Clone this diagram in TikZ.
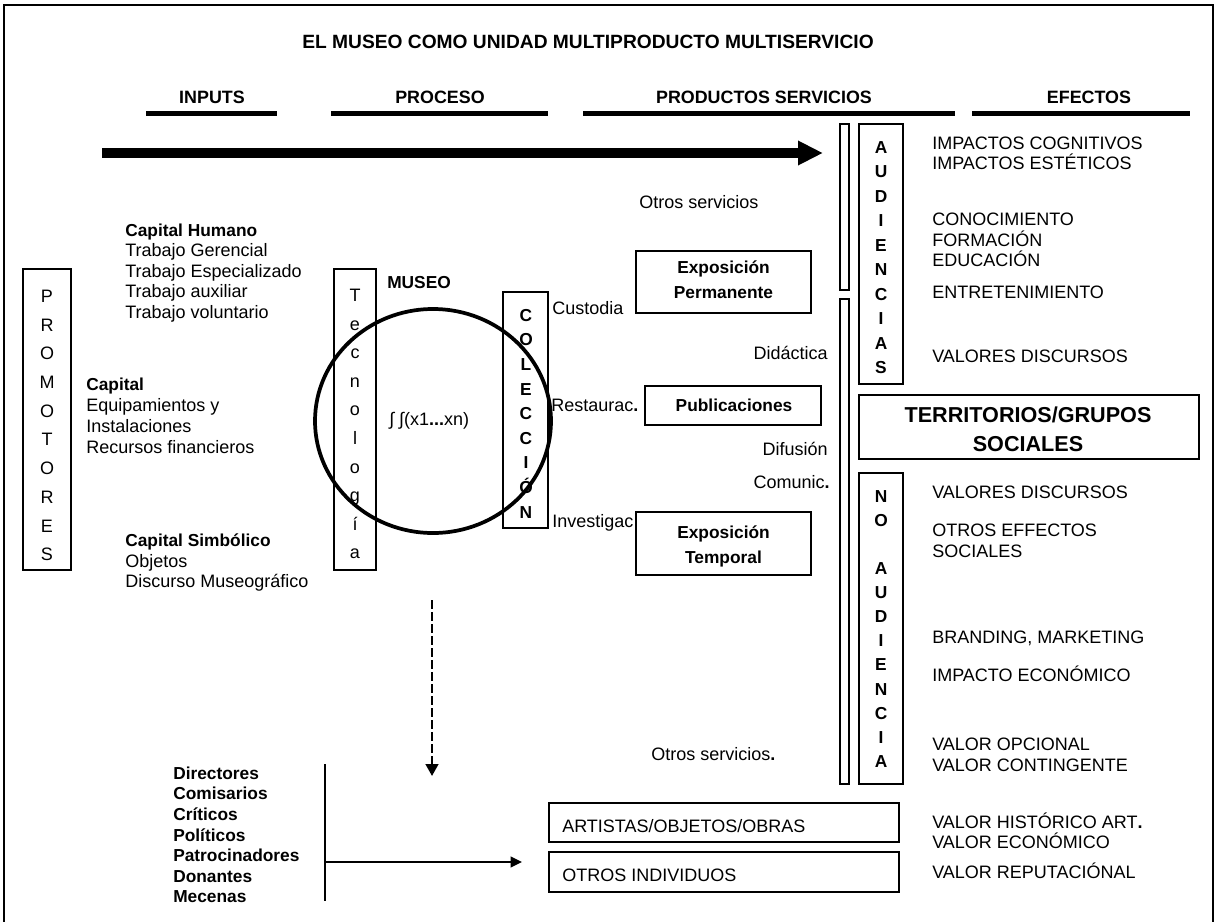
\documentclass[tikz,border=0pt]{standalone}
\usepackage{fontspec}
\setmainfont{Liberation Sans}
\usetikzlibrary{arrows.meta,shapes.geometric}
% font sizes
\newcommand\rgf{\fontsize{13.5}{16}\selectfont}
\newcommand\bdf{\fontsize{13}{15.5}\selectfont\bfseries}
\newcommand\hdf{\fontsize{13.4}{16}\selectfont\bfseries}
\newcommand\ttlf{\fontsize{14.4}{17}\selectfont\bfseries}
\newcommand\bigf{\fontsize{16.2}{19}\selectfont\bfseries}
\newcommand\bdot{\textbf{.}}

\begin{document}
\begin{tikzpicture}[x=0.75pt,y=-0.75pt,
  rg/.style={font=\rgf,inner sep=0pt,text height=9.7pt,text depth=0pt},
  bd/.style={font=\bdf,inner sep=0pt,text height=9.3pt,text depth=0pt},
  hd/.style={font=\hdf,inner sep=0pt,text height=9.6pt,text depth=0pt},
  big/.style={font=\bigf,inner sep=0pt,text height=11.6pt,text depth=0pt},
  box/.style={draw,line width=0.9pt,inner sep=0pt},
  hbar/.style={line width=3.75pt},
]
\useasboundingbox (0,0) rectangle (1217,921);

% outer frame (open at the bottom)
\draw[line width=1.6pt] (4,930) -- (4,5) -- (1213,5) -- (1213,930);

% title and column headings
\node[font=\ttlf,inner sep=0pt,text height=10.3pt,text depth=0pt] (title) at (588,42)
  {EL MUSEO COMO UNIDAD MULTIPRODUCTO MULTISERVICIO};
\node[hd] (hin) at (212,97) {INPUTS};
\node[hd] (hpr) at (440,97) {PROCESO};
\node[hd] (hps) at (764,97) {PRODUCTOS SERVICIOS};
\node[hd] (hef) at (1089,97) {EFECTOS};
\draw[hbar] (146,113) -- (277,113);
\draw[hbar] (331,113) -- (548,113);
\draw[hbar] (583,113) -- (955,113);
\draw[hbar] (972,113) -- (1190,113);

% main flow arrow
\coordinate (flowA) at (102,153);
\coordinate (flowB) at (823,153);
\draw[line width=7.5pt,-{Triangle[length=18.75pt,width=17.25pt]}] (flowA) -- (flowB);

% PROMOTORES
\node[box,minimum width=36pt,minimum height=225.75pt] (prom) at (47,419.5) {};
\foreach \c [count=\i from 0] in {P,R,O,M,O,T,O,R,E,S}
  \node[rg] (pm\i) at (47,296+28.7*\i) {\c};

% inputs
\node[bd,anchor=west] (ch) at (125,230) {Capital Humano};
\foreach \yy/\lbl [count=\i] in {250/Trabajo Gerencial,271/Trabajo Especializado,291/Trabajo auxiliar,312/Trabajo voluntario}
  \node[rg,anchor=west] (ch\i) at (125,\yy) {\lbl};
\node[bd,anchor=west] (cp) at (86,384) {Capital};
\foreach \yy/\lbl [count=\i] in {405/Equipamientos y,426/Instalaciones,447/Recursos financieros}
  \node[rg,anchor=west] (cp\i) at (86,\yy) {\lbl};
\node[bd,anchor=west] (cs) at (125,540) {Capital Simbólico};
\foreach \yy/\lbl [count=\i] in {561/Objetos,581/Discurso Museográfico}
  \node[rg,anchor=west] (cs\i) at (125,\yy) {\lbl};

% Tecnologia
\node[box,minimum width=31.5pt,minimum height=225.75pt] (tec) at (355,419.5) {};
\foreach \c [count=\i from 0] in {T,e,c,n,o,l,o,g,í,a}
  \node[rg,anchor=base] (tc\i) at (355,301.5+28.6*\i) {\c};

% museum
\node[bd,anchor=west] (mus) at (387,282) {MUSEO};
\node[rg,anchor=west] (fx) at (389,419) {∫ ∫(x1\textbf{...}xn)};

% COLECCION
\node[box,minimum width=33.75pt,minimum height=177pt] (col) at (525.5,410) {};
\foreach \c [count=\i from 0] in {C,O,L,E,C,C,I,Ó,N}
  \node[bd] (cl\i) at (526,315+24.6*\i) {\c};

\node[draw,ellipse,line width=2.8pt,minimum width=177pt,minimum height=168pt,inner sep=0pt] (circ) at (433,421) {};

% collection functions
\node[rg,anchor=west] (cus) at (552,308) {Custodia};
\node[rg,anchor=west] (res) at (551,405) {Restaurac\bdot};
\node[rg,anchor=west] (inv) at (552,521) {Investigac};
\node[rg,anchor=east] (did) at (828,353) {Didáctica};
\node[rg,anchor=east] (dif) at (828,449) {Difusión};
\node[rg,anchor=east] (com) at (830,482) {Comunic\bdot};
\node[rg,anchor=west] (os1) at (639,202) {Otros servicios};
\node[rg,anchor=west] (os2) at (651,754) {Otros servicios\bdot};

% products
\node[box,minimum width=131.25pt,minimum height=46.5pt] (ep) at (723.5,282) {};
\node[bd] (ep1) at (723.5,267) {Exposición};
\node[bd] (ep2) at (723.5,292) {Permanente};
\node[box,minimum width=132pt,minimum height=29.25pt] (pub) at (733,405.5) {};
\node[bd] (pub1) at (734,405) {Publicaciones};
\node[box,minimum width=131.25pt,minimum height=47.25pt] (et) at (723.5,543.5) {};
\node[bd] (et1) at (723.5,532) {Exposición};
\node[bd] (et2) at (723.5,557) {Temporal};

% audiences
\node[box,line width=0.8pt,minimum width=6.75pt,minimum height=124.5pt] (st1) at (844.5,207) {};
\node[box,line width=0.8pt,minimum width=6.75pt,minimum height=363.75pt] (st2) at (844.5,541.5) {};
\node[box,minimum width=33pt,minimum height=195pt] (aud) at (881,254) {};
\foreach \c [count=\i from 0] in {A,U,D,I,E,N,C,I,A,S}
  \node[bd] (au\i) at (881,147+24.5*\i) {\c};
\node[box,minimum width=33pt,minimum height=233.25pt] (noa) at (881,628.5) {};
\foreach \c/\k in {N/0,O/1,A/3,U/4,D/5,I/6,E/7,N/8,C/9,I/10,A/11}
  \node[bd] (na\k) at (881,496+24.1*\k) {\c};
\node[box,minimum width=255pt,minimum height=48pt] (ter) at (1029,427) {};
\node[big] (ter1) at (1028,415) {TERRITORIOS/GRUPOS};
\node[big] (ter2) at (1028,444) {SOCIALES};

% effects
\foreach \yy/\lbl [count=\i] in {143/IMPACTOS COGNITIVOS,163/IMPACTOS ESTÉTICOS,219/CONOCIMIENTO,240/FORMACIÓN,260/EDUCACIÓN,292/ENTRETENIMIENTO,356/VALORES DISCURSOS,492/VALORES DISCURSOS,530/OTROS EFFECTOS,551/SOCIALES,637/{BRANDING, MARKETING},675/IMPACTO ECONÓMICO,744/VALOR OPCIONAL,765/VALOR CONTINGENTE,822/VALOR HISTÓRICO ART\bdot,842/VALOR ECONÓMICO,872/VALOR REPUTACIÓNAL}
  \node[rg,anchor=west] (ef\i) at (932,\yy) {\lbl};

% downward dashed arrow
\coordinate (dA) at (432,600);
\coordinate (dB) at (432,776);
\draw[line width=1.8pt,dash pattern=on 7pt off 2pt,-{Triangle[length=9pt,width=9.5pt]}] (dA) -- (dB);

% agents
\foreach \lbl [count=\i from 0] in {Directores,Comisarios,Críticos,Políticos,Patrocinadores,Donantes,Mecenas}
  \node[bd,anchor=west] (ag\i) at (173,773+20.6*\i) {\lbl};
\coordinate (vt) at (325,764);
\coordinate (vb) at (325,901);
\draw[line width=0.8pt] (vt) -- (vb);
\coordinate (hs) at (325,862);
\coordinate (he) at (522,862);
\draw[line width=1.2pt,-{Triangle[length=8.5pt,width=8pt]}] (hs) -- (he);

\node[box,minimum width=262.5pt,minimum height=29.25pt] (art) at (724,822.5) {};
\node[rg,anchor=west] (art1) at (562,826) {ARTISTAS/OBJETOS/OBRAS};
\node[box,minimum width=262.5pt,minimum height=30pt] (oti) at (724,872) {};
\node[rg,anchor=west] (oti1) at (562,875) {OTROS INDIVIDUOS};
\end{tikzpicture}
\end{document}
